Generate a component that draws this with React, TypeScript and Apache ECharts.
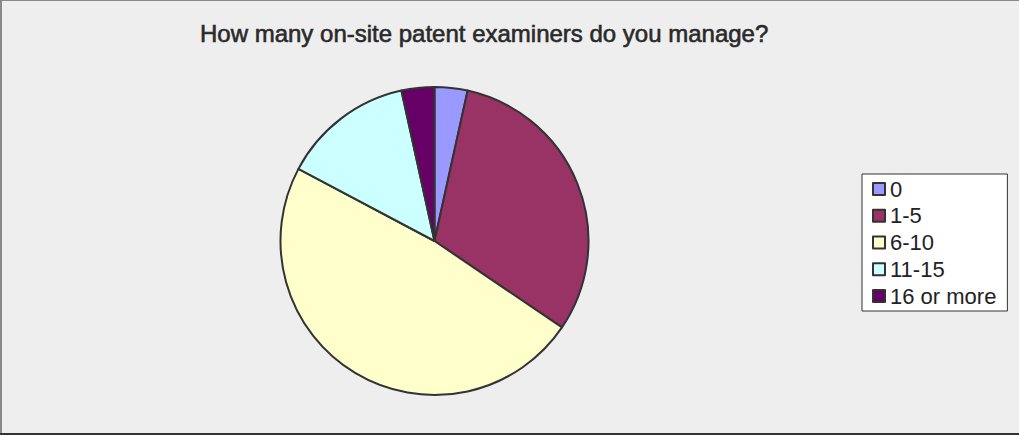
import React, { useEffect, useRef } from "react";
import * as echarts from "echarts";

const titleText = "How many on-site patent examiners do you manage?";
const categories = ["0", "1-5", "6-10", "11-15", "16 or more"];
const counts = [1, 9, 14, 4, 1];
const colors = ["#9999ff", "#993366", "#ffffcc", "#ccffff", "#660066"];

export default function App() {
  const ref = useRef<HTMLDivElement>(null);
  useEffect(() => {
    if (!ref.current) return;
    const chart = echarts.init(ref.current, undefined, { renderer: "svg" });
    chart.setOption({
      animation: false,
      backgroundColor: "#eeeeee",
      title: {
        text: titleText,
        left: 200,
        top: 21,
        padding: 0,
        textStyle: {
          fontFamily: "Liberation Sans, Arial, sans-serif",
          fontSize: 24,
          fontWeight: "normal",
          color: "#2a2a2a",
          textBorderColor: "#2a2a2a",
          textBorderWidth: 0.6,
          lineHeight: 24,
        },
      },
      legend: {
        orient: "vertical",
        left: 862,
        top: 174,
        padding: [4, 11, 4, 10],
        backgroundColor: "#ffffff",
        borderColor: "#333333",
        borderWidth: 1,
        borderRadius: 0,
        itemWidth: 12,
        itemHeight: 12,
        itemGap: 4.75,
        selectedMode: false,
        icon: "rect",
        itemStyle: { borderColor: "#333333", borderWidth: 2 },
        textStyle: {
          fontFamily: "Liberation Sans, Arial, sans-serif",
          fontSize: 22,
          lineHeight: 22,
          color: "#222222",
          padding: [0, 0, 0, 0],
        },
        data: categories,
      },
      graphic: [
        { type: "rect", shape: { x: 0, y: 0, width: 2, height: 435 }, style: { fill: "#888888" }, silent: true },
        { type: "rect", shape: { x: 0, y: 0, width: 1019, height: 1 }, style: { fill: "#888888" }, silent: true },
        { type: "rect", shape: { x: 0, y: 433, width: 1019, height: 2 }, style: { fill: "#333333" }, silent: true },
      ],
      series: [
        {
          type: "pie",
          center: [434.5, 241],
          radius: 154,
          startAngle: 90,
          clockwise: true,
          label: { show: false },
          labelLine: { show: false },
          emphasis: { disabled: true },
          itemStyle: { borderColor: "#333333", borderWidth: 2 },
          data: categories.map((name, i) => ({
            name,
            value: counts[i],
            itemStyle: { color: colors[i] },
          })),
        },
      ],
    });
    return () => chart.dispose();
  }, []);
  return (
    <div
      ref={ref}
      style={{ position: "absolute", left: 0, top: 0, width: 1019, height: 435 }}
    />
  );
}
